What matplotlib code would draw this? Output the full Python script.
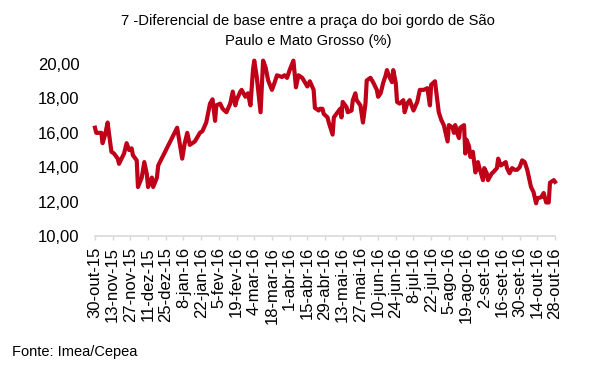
import matplotlib
matplotlib.use("Agg")
import matplotlib.pyplot as plt
import pandas as pd

plt.rcParams['font.family'] = ['Liberation Sans', 'DejaVu Sans']

# Data: days since 30-out-15 and the basis differential (%)
start_date = "2015-10-30"
day_offsets = [
    0, 1, 3, 5, 6, 8, 10, 11, 13, 15, 18, 19, 21, 23, 25, 27, 29, 30, 33, 34,
    37, 39, 41, 42, 45, 46, 49, 50, 65, 69, 71, 73, 75, 79, 83, 85, 88, 91, 93, 95,
    96, 99, 101, 104, 107, 109, 111, 112, 115, 116, 119, 121, 123, 125, 126, 128, 131, 133, 135, 137,
    140, 142, 144, 148, 150, 152, 154, 157, 159, 161, 164, 166, 168, 170, 173, 174, 177, 178, 180, 181,
    184, 185, 188, 189, 192, 194, 195, 196, 199, 200, 203, 204, 206, 207, 210, 212, 214, 215, 218, 220,
    223, 224, 226, 228, 230, 231, 233, 235, 236, 238, 239, 241, 244, 245, 247, 249, 252, 255, 257, 260,
    263, 265, 266, 269, 272, 274, 276, 279, 280, 283, 284, 285, 287, 288, 289, 292, 293, 294, 296, 297,
    299, 300, 301, 303, 304, 307, 308, 310, 311, 314, 315, 318, 319, 321, 323, 325, 326, 328, 330, 332,
    334, 336, 338, 340, 342, 345, 347, 349, 350, 353, 355, 357, 359, 360, 363, 364,
]
diferencial = [
    16.3, 16.0, 16.0, 16.0, 15.4, 15.9, 16.6, 16.0, 14.9, 14.8, 14.5, 14.2, 14.5, 14.8, 15.4, 15.0, 15.1, 14.7, 14.4, 12.85,
    13.4, 14.3, 13.6, 12.85, 13.4, 12.85, 13.4, 14.1, 16.3, 14.5, 15.4, 16.0, 15.3, 15.5, 16.0, 16.1, 16.6, 17.7, 17.95, 16.7,
    17.6, 17.7, 17.4, 17.2, 17.7, 18.4, 17.6, 17.9, 18.4, 18.5, 18.1, 18.3, 17.6, 19.65, 20.2, 19.25, 17.2, 20.2, 19.8, 19.05,
    18.5, 18.9, 19.35, 19.25, 19.35, 19.2, 19.65, 20.2, 18.65, 19.35, 19.2, 18.95, 18.7, 19.0, 18.5, 17.45, 17.3, 17.4, 17.4, 17.1,
    16.9, 16.6, 15.9, 16.9, 17.2, 17.4, 16.9, 17.8, 17.5, 17.2, 17.3, 17.9, 18.3, 17.9, 17.6, 16.6, 17.7, 19.05, 19.2, 18.95,
    18.5, 18.1, 18.3, 18.9, 19.35, 19.65, 19.25, 18.95, 19.65, 18.9, 17.8, 17.7, 17.9, 17.2, 17.7, 17.9, 17.3, 17.8, 18.5, 18.5,
    18.6, 17.6, 18.8, 19.0, 17.2, 16.75, 16.45, 15.5, 16.45, 16.3, 16.0, 16.45, 15.9, 15.7, 16.3, 16.45, 14.8, 15.6, 15.2, 14.6,
    14.9, 14.3, 13.7, 14.3, 14.0, 13.25, 13.95, 13.65, 13.25, 13.65, 13.7, 13.95, 14.5, 14.1, 14.2, 14.3, 13.95, 13.65, 13.95, 13.85,
    13.85, 14.0, 14.4, 14.3, 13.85, 12.85, 12.55, 11.9, 12.2, 12.25, 12.5, 11.95, 11.95, 13.1, 13.25, 13.15,
]
tick_labels = [
    "30-out-15", "13-nov-15", "27-nov-15", "11-dez-15", "25-dez-15", "8-jan-16",
    "22-jan-16", "5-fev-16", "19-fev-16", "4-mar-16", "18-mar-16", "1-abr-16",
    "15-abr-16", "29-abr-16", "13-mai-16", "27-mai-16", "10-jun-16", "24-jun-16",
    "8-jul-16", "22-jul-16", "5-ago-16", "19-ago-16", "2-set-16", "16-set-16",
    "30-set-16", "14-out-16", "28-out-16",
]
y_ticks = [10, 12, 14, 16, 18, 20]

dates = pd.Timestamp(start_date) + pd.to_timedelta(day_offsets, unit="D")
tick_dates = pd.date_range(start_date, periods=len(tick_labels), freq="14D")

fig = plt.figure(figsize=(5.99, 3.77), dpi=100)
ax = fig.add_axes([0.1586, 0.374, 0.768, 0.456])

ax.plot(dates, diferencial, color="#C00018", linewidth=3.0,
        solid_joinstyle="round", clip_on=False)

ax.set_ylim(10, 20)
ax.set_yticks(y_ticks)
ax.set_yticklabels([f"{v:.2f}".replace(".", ",") for v in y_ticks], fontsize=12)
ax.set_xlim(tick_dates[0], tick_dates[-1])
ax.set_xticks(tick_dates)
ax.set_xticklabels(tick_labels, rotation=90, fontsize=12)

# only the light grey category axis is shown, as in the Excel original
for side in ["top", "right", "left"]:
    ax.spines[side].set_visible(False)
ax.spines["bottom"].set_color("#D9D9D9")
ax.spines["bottom"].set_linewidth(1.2)
ax.tick_params(axis="y", length=0, pad=11)
ax.tick_params(axis="x", length=3, width=1.0, color="#D9D9D9", pad=5)

fig.text(0.514, 0.944, "7 -Diferencial de base entre a praça do boi gordo de São",
         ha="center", va="center", fontsize=10.6)
fig.text(0.514, 0.891, "Paulo e Mato Grosso (%)", ha="center", va="center", fontsize=10.6)
fig.text(0.02, 0.066, "Fonte: Imea/Cepea", ha="left", va="center", fontsize=10.5)

fig.savefig("out.png", dpi=100)
